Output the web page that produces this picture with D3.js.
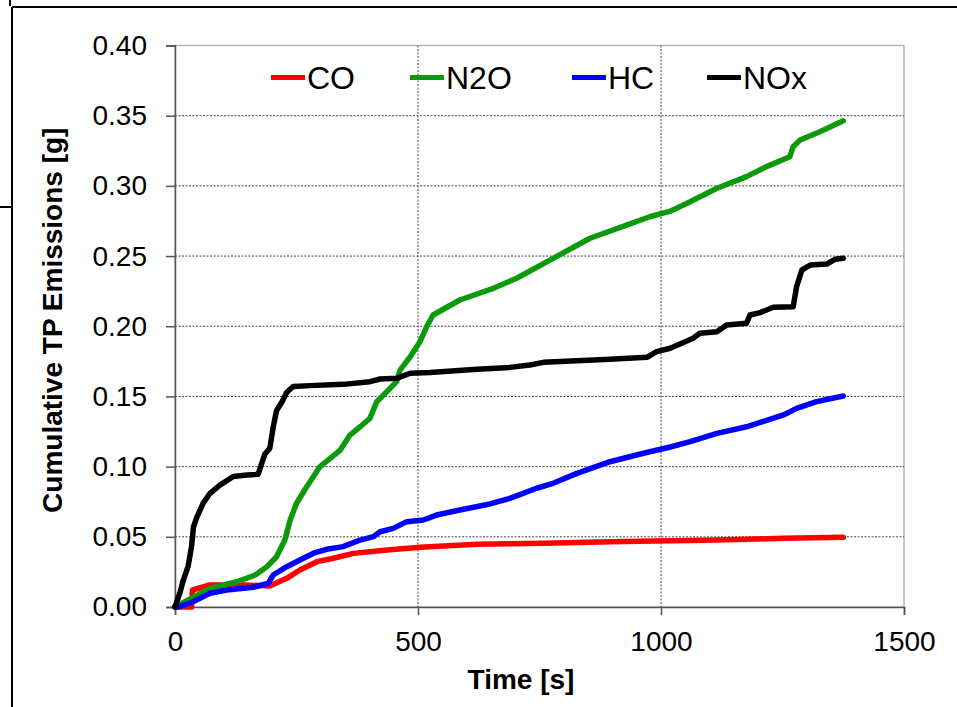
<!DOCTYPE html>
<html>
<head>
<meta charset="utf-8">
<script src="https://cdn.jsdelivr.net/npm/d3@7"></script>
<style>
  body { margin: 0; background: #fff; }
  svg { display: block; font-family: "Liberation Sans", Arial, sans-serif; }
</style>
</head>
<body>
<script>
// values
const seriesNames = ["CO", "N2O", "HC", "NOx"];
const seriesColors = ["#ff0000", "#0a9a0a", "#0000ff", "#000000"];

const coTime = [0, 34, 36, 72, 141, 195, 230, 257, 292, 326, 367, 436, 504, 621, 758, 895, 1019, 1115, 1252, 1375];
const coVal = [0, 0, 0.0121, 0.0157, 0.0157, 0.015, 0.0204, 0.0264, 0.0323, 0.0347, 0.0382, 0.0406, 0.0425, 0.0447, 0.0454, 0.0465, 0.0472, 0.0477, 0.0489, 0.0496];

const n2oTime = [0, 72, 127, 165, 189, 209, 226, 237, 250, 271, 298, 340, 360, 381, 401, 415, 436, 456, 463, 484, 504, 518, 531, 586, 655, 703, 778, 854, 929, 977, 1019, 1060, 1115, 1176, 1217, 1265, 1272, 1286, 1327, 1375];
const n2oVal = [0, 0.0133, 0.018, 0.0228, 0.0287, 0.0358, 0.0477, 0.062, 0.0739, 0.0857, 0.0999, 0.1118, 0.1225, 0.1284, 0.1344, 0.1462, 0.1534, 0.1605, 0.1688, 0.1783, 0.189, 0.1997, 0.208, 0.2187, 0.227, 0.2342, 0.2484, 0.2627, 0.2721, 0.278, 0.282, 0.2887, 0.2983, 0.3066, 0.3137, 0.3208, 0.3279, 0.3327, 0.3386, 0.3464];

const hcTime = [0, 7, 38, 72, 106, 161, 192, 202, 230, 257, 285, 312, 346, 381, 408, 422, 449, 477, 511, 538, 586, 648, 689, 744, 778, 827, 895, 964, 1019, 1060, 1115, 1176, 1252, 1279, 1320, 1375];
const hcVal = [0, 0, 0.0038, 0.0098, 0.0121, 0.014, 0.0169, 0.0228, 0.0287, 0.0335, 0.0383, 0.0411, 0.043, 0.0477, 0.0501, 0.0536, 0.056, 0.0608, 0.062, 0.0655, 0.0691, 0.0734, 0.0774, 0.0846, 0.0881, 0.0952, 0.1035, 0.1095, 0.114, 0.1178, 0.1237, 0.1284, 0.1368, 0.1415, 0.1463, 0.1503];

const noxTime = [0, 10, 17, 27, 34, 38, 45, 58, 72, 93, 120, 148, 171, 178, 185, 195, 202, 209, 220, 230, 243, 278, 346, 401, 422, 456, 484, 525, 621, 689, 730, 758, 827, 895, 971, 991, 1019, 1066, 1080, 1115, 1135, 1176, 1183, 1204, 1231, 1272, 1279, 1290, 1307, 1341, 1358, 1375];
const noxVal = [0, 0.010, 0.019, 0.029, 0.043, 0.057, 0.064, 0.074, 0.081, 0.087, 0.093, 0.094, 0.0945, 0.102, 0.109, 0.113, 0.128, 0.140, 0.146, 0.153, 0.157, 0.1577, 0.1586, 0.1605, 0.1624, 0.1629, 0.1665, 0.167, 0.1693, 0.1707, 0.1724, 0.1743, 0.1755, 0.1765, 0.1779, 0.1819, 0.1843, 0.1914, 0.195, 0.196, 0.2009, 0.2021, 0.208, 0.2097, 0.2135, 0.2139, 0.2282, 0.2401, 0.2436, 0.2443, 0.2477, 0.2484];

const xTicks = [0, 500, 1000, 1500];
const yTicks = [0, 0.05, 0.10, 0.15, 0.20, 0.25, 0.30, 0.35, 0.40];

const series = [
    { name: seriesNames[0], color: seriesColors[0], t: coTime, v: coVal },
    { name: seriesNames[1], color: seriesColors[1], t: n2oTime, v: n2oVal },
    { name: seriesNames[2], color: seriesColors[2], t: hcTime, v: hcVal },
    { name: seriesNames[3], color: seriesColors[3], t: noxTime, v: noxVal }
];

const width = 957, height = 707;
const margin = { top: 45.5, right: 53, bottom: 100, left: 175 };
const innerW = width - margin.left - margin.right;
const innerH = height - margin.top - margin.bottom;

const svg = d3.select("body").append("svg")
    .attr("width", width)
    .attr("height", height);

// outer frame lines
svg.append("line").attr("x1", 12).attr("x2", width).attr("y1", 7).attr("y2", 7)
    .attr("stroke", "#000").attr("stroke-width", 2);
svg.append("line").attr("x1", 12).attr("x2", 12).attr("y1", 7).attr("y2", height)
    .attr("stroke", "#000").attr("stroke-width", 2);
svg.append("line").attr("x1", 10).attr("x2", 10).attr("y1", 0).attr("y2", 6)
    .attr("stroke", "#000").attr("stroke-width", 2);
svg.append("line").attr("x1", 0).attr("x2", 11).attr("y1", 207).attr("y2", 207)
    .attr("stroke", "#000").attr("stroke-width", 2);

const g = svg.append("g").attr("transform", `translate(${margin.left},${margin.top})`);

const x = d3.scaleLinear().domain([0, 1500]).range([0, innerW]);
const y = d3.scaleLinear().domain([0, 0.4]).range([innerH, 0]);

// plot border (top/right light grey)
g.append("rect")
    .attr("width", innerW).attr("height", innerH)
    .attr("fill", "none").attr("stroke", "#b4b4b4").attr("stroke-width", 1.5);

// gridlines
g.append("g").attr("class", "grid")
    .selectAll("line").data(yTicks.slice(1, -1)).join("line")
    .attr("x1", 0).attr("x2", innerW)
    .attr("y1", d => y(d)).attr("y2", d => y(d))
    .attr("stroke", "#444").attr("stroke-width", 1).attr("stroke-dasharray", "2,1.5");
g.append("g").attr("class", "grid")
    .selectAll("line").data(xTicks.slice(1, -1)).join("line")
    .attr("x1", d => x(d)).attr("x2", d => x(d))
    .attr("y1", 0).attr("y2", innerH)
    .attr("stroke", "#444").attr("stroke-width", 1).attr("stroke-dasharray", "2,1.5");

// axes
const yAxis = g.append("g")
    .call(d3.axisLeft(y).tickValues(yTicks).tickFormat(d3.format(".2f")).tickSize(9).tickPadding(19));
const xAxis = g.append("g")
    .attr("transform", `translate(0,${innerH})`)
    .call(d3.axisBottom(x).tickValues(xTicks).tickFormat(d3.format("d")).tickSize(8).tickPadding(16));

[yAxis, xAxis].forEach(a => {
    a.select(".domain").attr("stroke", "#555").attr("stroke-width", 1.5);
    a.selectAll(".tick line").attr("stroke", "#555").attr("stroke-width", 1.5);
    a.selectAll(".tick text")
        .attr("fill", "#000")
        .style("font-size", "28px")
        .style("font-family", "'Liberation Sans', Arial, sans-serif");
});

// lines
const line = d3.line()
    .x(d => x(d[0]))
    .y(d => y(d[1]));

g.selectAll(".series")
    .data(series)
    .join("path")
    .attr("class", "series")
    .attr("fill", "none")
    .attr("stroke", d => d.color)
    .attr("stroke-width", 5.5)
    .attr("stroke-linejoin", "round")
    .attr("stroke-linecap", "round")
    .attr("d", d => line(d.t.map((t, i) => [t, d.v[i]])));

// legend
const legendX = [96, 235, 397, 532];
const legend = g.selectAll(".legend")
    .data(series)
    .join("g")
    .attr("class", "legend")
    .attr("transform", (d, i) => `translate(${legendX[i]},32)`);
legend.append("line")
    .attr("x1", 0).attr("x2", 34)
    .attr("stroke", d => d.color).attr("stroke-width", 5);
legend.append("text")
    .attr("x", 36).attr("y", 11.5)
    .style("font-size", "32px")
    .text(d => d.name);

// axis titles
svg.append("text")
    .attr("x", 521)
    .attr("y", 689)
    .attr("text-anchor", "middle")
    .style("font-size", "28px")
    .style("font-weight", "bold")
    .text("Time [s]");

svg.append("text")
    .attr("transform", `translate(62,${margin.top + innerH / 2 - 6}) rotate(-90)`)
    .attr("text-anchor", "middle")
    .style("font-size", "28px")
    .style("font-weight", "bold")
    .text("Cumulative TP Emissions [g]");
</script>
</body>
</html>
